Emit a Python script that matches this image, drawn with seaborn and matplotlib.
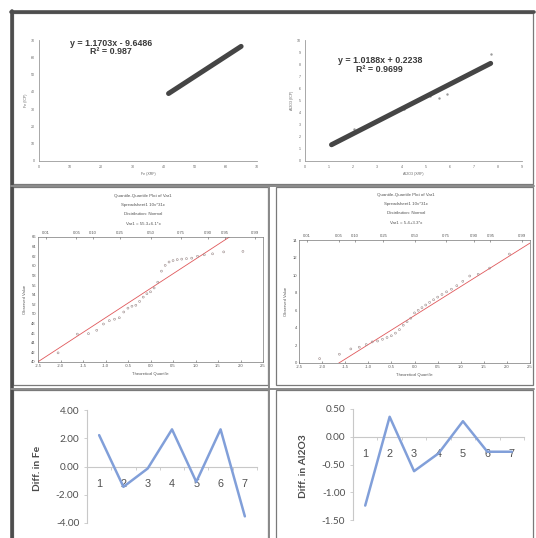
import matplotlib
matplotlib.use("Agg")
import matplotlib.pyplot as plt
from matplotlib.patches import Rectangle
from matplotlib.lines import Line2D
import pandas as pd
import seaborn as sns
from statistics import NormalDist

# ---------------------------------------------------------------- data
# Fe: XRF vs ICP calibration (wt%)
fe_xrf = [41.6, 44.8, 48.2, 51.5, 55.3, 58.1, 64.9]
fe_icp = [39.2, 43.0, 46.6, 51.1, 55.0, 59.0, 66.4]
fe_slope, fe_intercept, fe_r2 = 1.1703, -9.6486, 0.987

# Al2O3: XRF vs ICP calibration (wt%)
al_xrf = [1.10, 2.05, 4.10, 5.20, 5.55, 5.90, 7.70]
al_icp = [1.40, 2.65, 4.30, 5.40, 5.20, 5.50, 8.85]
al_slope, al_intercept, al_r2 = 1.0188, 0.2238, 0.9699

# Normal Q-Q samples (31 cases each, sorted)
qq_fe = [41.9, 45.8, 45.9, 46.6, 47.9, 48.6, 48.9, 49.2, 50.4, 51.2, 51.6,
         51.8, 52.6, 53.5, 54.2, 54.6, 55.4, 56.6, 58.9, 60.1, 60.8, 61.1,
         61.3, 61.4, 61.5, 61.6, 62.0, 62.3, 62.5, 62.9, 63.0]
qq_fe_mean, qq_fe_sd = 55.3, 6.1
qq_al = [0.5, 1.0, 1.6, 1.8, 2.1, 2.4, 2.5, 2.7, 2.9, 3.1, 3.4, 3.8, 4.3,
         4.7, 5.1, 5.7, 6.0, 6.3, 6.6, 6.9, 7.2, 7.5, 7.8, 8.1, 8.4, 8.8,
         9.3, 9.9, 10.1, 10.8, 12.4]
qq_al_mean, qq_al_sd = 5.4, 3.3
qq_probs = [0.01, 0.05, 0.10, 0.25, 0.50, 0.75, 0.90, 0.95, 0.99]

# Differences per sample
samples = [1, 2, 3, 4, 5, 6, 7]
fe_diff = [2.22, -1.44, -0.14, 2.63, -1.09, 2.63, -3.53]
al_diff = [-1.24, 0.36, -0.62, -0.30, 0.28, -0.27, -0.27]

# ---------------------------------------------------------------- setup
sns.set_theme(style="white")
plt.rcParams["font.family"] = ["Liberation Sans", "DejaVu Sans"]

W, H, DPI = 536, 538, 100
fig = plt.figure(figsize=(W / DPI, H / DPI), dpi=DPI, facecolor="white")


def box(x0, y0, x1, y1):
    return [x0 / W, 1 - y1 / H, (x1 - x0) / W, (y1 - y0) / H]


def frame(x0, y0, x1, y1, lw=1.0, color="#7a7a7a"):
    fig.patches.append(Rectangle((x0 / W, 1 - y1 / H), (x1 - x0) / W, (y1 - y0) / H,
                                 transform=fig.transFigure, fill=False,
                                 edgecolor=color, linewidth=lw, zorder=0))


def hline(x0, x1, y, lw, color):
    fig.add_artist(Line2D([x0 / W, x1 / W], [1 - y / H, 1 - y / H],
                          transform=fig.transFigure, lw=lw, color=color))


def vline(x, y0, y1, lw, color):
    fig.add_artist(Line2D([x / W, x / W], [1 - y0 / H, 1 - y1 / H],
                          transform=fig.transFigure, lw=lw, color=color))


# panel borders
frame(13, 13, 533, 184, lw=0.9)
frame(13, 187, 268, 385, lw=0.9)
frame(276, 187, 533, 385, lw=0.9)
frame(13, 390, 268, 540, lw=0.9)
frame(276, 390, 533, 540, lw=0.9)
hline(11, 534, 12, 2.6, "#4d4d4d")
vline(12, 11, 540, 2.6, "#4d4d4d")
vline(269, 186, 540, 1.4, "#8a8a8a")
hline(11, 534, 186, 1.4, "#8a8a8a")
hline(11, 534, 389, 1.4, "#8a8a8a")

# ---------------------------------------------------------------- calibration scatters
def calib(ax_box, x, y, slope, intercept, r2, xmax, ymax, step, xlabel, ylabel,
          eq_xy):
    ax = fig.add_axes(box(*ax_box))
    df = pd.DataFrame({"x": x, "y": y})
    sns.scatterplot(data=df, x="x", y="y", ax=ax, s=3, color="#9a9a9a",
                    linewidth=0, zorder=2)
    fit = pd.DataFrame({"x": [min(x), max(x)]})
    fit["y"] = [slope * v + intercept for v in fit["x"]]
    sns.lineplot(data=fit, x="x", y="y", ax=ax, color="#454545", lw=3.6,
                 solid_capstyle="round", zorder=3)
    ax.set_xlim(0, xmax)
    ax.set_ylim(0, ymax)
    ax.set_xticks(range(0, xmax + 1, step))
    ax.set_yticks(range(0, ymax + 1, step))
    ax.tick_params(labelsize=2.6, colors="#666666", length=1.5, width=0.4, pad=1.5)
    for s in ["top", "right"]:
        ax.spines[s].set_visible(False)
    for s in ["left", "bottom"]:
        ax.spines[s].set_color("#9a9a9a")
        ax.spines[s].set_linewidth(0.6)
    ax.set_xlabel(xlabel, fontsize=2.6, color="#666666", labelpad=2)
    ax.set_ylabel(ylabel, fontsize=2.6, color="#666666", labelpad=2)
    ax.set_facecolor("white")
    op = "-" if intercept < 0 else "+"
    ax.text(eq_xy[0], eq_xy[1],
            f"y = {slope:.4f}x {op} {abs(intercept):.4f}\nR\u00b2 = {r2}",
            ha="center", va="center", fontsize=6.4, fontweight="bold",
            color="#3a3a3a", linespacing=0.95)
    return ax


calib((39, 40, 257, 161), fe_xrf, fe_icp, fe_slope, fe_intercept, fe_r2,
      70, 70, 10, "Fe (XRF)", "Fe (ICP)", (23, 65.6))
calib((305, 40, 522, 161), al_xrf, al_icp, al_slope, al_intercept, al_r2,
      9, 10, 1, "Al2O3 (XRF)", "Al2O3 (ICP)", (3.1, 7.95))

# ---------------------------------------------------------------- Q-Q plots
def qqplot(ax_box, values, mean, sd, ylim, ystep, title_x, title_y0):
    n = len(values)
    theo = [NormalDist().inv_cdf((i + 1 - 0.375) / (n + 0.25)) for i in range(n)]
    ax = fig.add_axes(box(*ax_box))
    df = pd.DataFrame({"q": theo, "v": values})
    ref = pd.DataFrame({"q": [-2.5, 2.5]})
    ref["v"] = [mean + sd * q for q in ref["q"]]
    sns.lineplot(data=ref, x="q", y="v", ax=ax, color="#e0585b", lw=0.6, zorder=2)
    sns.scatterplot(data=df, x="q", y="v", ax=ax, s=2, marker="o",
                    facecolor="none", edgecolor="#9a8a8a", linewidth=0.4, zorder=3)
    ax.set_xlim(-2.5, 2.5)
    ax.set_ylim(*ylim)
    xt = [-2.5 + 0.5 * k for k in range(11)]
    ax.set_xticks(xt)
    ax.set_xticklabels([f"{v:.1f}" for v in xt])
    ax.set_yticks(range(ylim[0], ylim[1] + 1, ystep))
    ax.tick_params(labelsize=3.0, colors="#555555", length=1.5, width=0.4,
                   pad=1.5, direction="in")
    for s in ax.spines.values():
        s.set_color("#777777")
        s.set_linewidth(0.5)
    ax.set_xlabel("Theoretical Quantile", fontsize=3.0, color="#555555", labelpad=3)
    ax.set_ylabel("Observed Value", fontsize=3.0, color="#555555", labelpad=3)
    top = ax.twiny()
    top.set_xlim(-2.5, 2.5)
    top.set_xticks([NormalDist().inv_cdf(p) for p in qq_probs])
    top.set_xticklabels([f"{p:.2f}" for p in qq_probs])
    top.tick_params(labelsize=3.0, colors="#555555", length=1.5, width=0.4,
                    pad=1.5, direction="in")
    for s in top.spines.values():
        s.set_visible(False)
    lines = ["Quantile-Quantile Plot of Var1",
             "Spreadsheet1 10v*31c",
             "Distribution: Normal",
             f"Var1 = {mean}+{sd}*x"]
    for k, t in enumerate(lines):
        fig.text(title_x / W, 1 - (title_y0 + 9.2 * k) / H, t, ha="center",
                 va="center", fontsize=3.2, color="#555555")
    return ax


qqplot((38, 237, 263, 362), qq_fe, qq_fe_mean, qq_fe_sd, (40, 66), 2, 143, 196)
qqplot((299, 240, 530, 363), qq_al, qq_al_mean, qq_al_sd, (0, 14), 2, 406, 195)

# ---------------------------------------------------------------- difference lines
def diffplot(ax_box, y, ylim, ystep, ylabel, label_xy):
    ax = fig.add_axes(box(*ax_box))
    df = pd.DataFrame({"sample": samples, "diff": y})
    sns.lineplot(data=df, x="sample", y="diff", ax=ax, color="#819fd9", lw=1.8,
                 zorder=3)
    ax.set_xlim(0.5, 7.5)
    ax.set_ylim(*ylim)
    yt = []
    v = ylim[0]
    while v <= ylim[1] + 1e-9:
        yt.append(round(v, 2))
        v += ystep
    ax.set_yticks(yt)
    ax.set_yticklabels([f"{t:.2f}" for t in yt], family=["Lato", "DejaVu Sans"])
    ax.set_xticks(samples)
    ax.set_xticklabels([str(s) for s in samples], family=["Lato", "DejaVu Sans"])
    ax.set_xticks([0.5 + k for k in range(8)], minor=True)
    ax.spines["bottom"].set_position(("data", 0))
    for s in ["top", "right"]:
        ax.spines[s].set_visible(False)
    for s in ["left", "bottom"]:
        ax.spines[s].set_color("#c8c8c8")
        ax.spines[s].set_linewidth(0.8)
    ax.tick_params(axis="y", labelsize=7.2, colors="#505050", length=2.5,
                   width=0.6, color="#c8c8c8", pad=3, left=True)
    ax.tick_params(axis="x", which="major", labelsize=7.8, colors="#505050",
                   length=0, pad=9)
    ax.tick_params(axis="x", which="minor", length=2.5, width=0.6,
                   color="#c8c8c8", bottom=True)
    ax.set_xlabel("")
    ax.set_ylabel("")
    fig.text(label_xy[0] / W, 1 - label_xy[1] / H, ylabel, rotation=90,
             ha="center", va="center", fontsize=7.4, fontweight="bold",
             color="#4a4a4a", family=["Lato", "DejaVu Sans"])
    return ax


diffplot((87, 410, 257, 523), fe_diff, (-4, 4), 2, "Diff. in Fe", (38, 468))
diffplot((353, 409, 524, 520), al_diff, (-1.5, 0.5), 0.5, "Diff. in Al2O3", (303, 466))

fig.savefig("out.png", dpi=DPI, facecolor="white")
